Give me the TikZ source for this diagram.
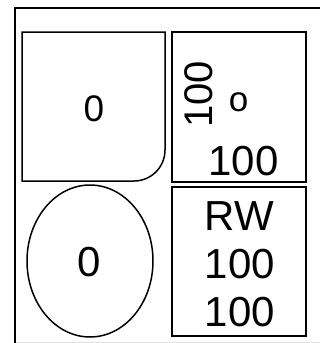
\documentclass[tikz,border=0pt]{standalone}
\usepackage{fontspec}
\setmainfont{Liberation Sans}
\begin{document}
\begin{tikzpicture}[x=1pt,y=-1pt,
  box/.style={draw=black,line width=1.5pt},
  lbl/.style={inner sep=0pt,outer sep=0pt,anchor=center}]
\useasboundingbox (0,0) rectangle (320,343);
% outer frame
\draw[line width=1pt,draw=black!12] (15,342) -- (320,342);
\draw[line width=2.6pt] (15,343) -- (15,8) -- (321,8);
% top-left rounded box
\draw[box] (22,32) -- (165,32) -- (165,150)
  .. controls (165,167.1) and (151.1,181) .. (134,181) -- (22,181) -- cycle;
\node[lbl,font=\fontsize{37}{37}\selectfont] (tl) at (94,109) {0};
% top-right box
\draw[box] (172,32) rectangle (306,182);
\node[lbl,rotate=90,font=\fontsize{40}{40}\selectfont] (tr1) at (198.5,94.5) {100};
\node[lbl,font=\fontsize{35}{35}\selectfont] (tr2) at (238.5,102.5) {o};
\node[lbl,font=\fontsize{42}{42}\selectfont] (tr3) at (243.5,161.5) {100};
% ellipse
\draw[line width=1.5pt] (90,261) ellipse [x radius=63,y radius=76];
\node[lbl,font=\fontsize{42}{42}\selectfont] (bl) at (89.5,262.5) {0};
% bottom-right box
\draw[box] (172,187) rectangle (306,336);
\node[lbl,font=\fontsize{42}{42}\selectfont] (rw) at (239.5,216) {RW};
\node[lbl,font=\fontsize{42}{42}\selectfont] (br1) at (240,264.5) {100};
\node[lbl,font=\fontsize{42}{42}\selectfont] (br2) at (240,312.5) {100};
\end{tikzpicture}
\end{document}
